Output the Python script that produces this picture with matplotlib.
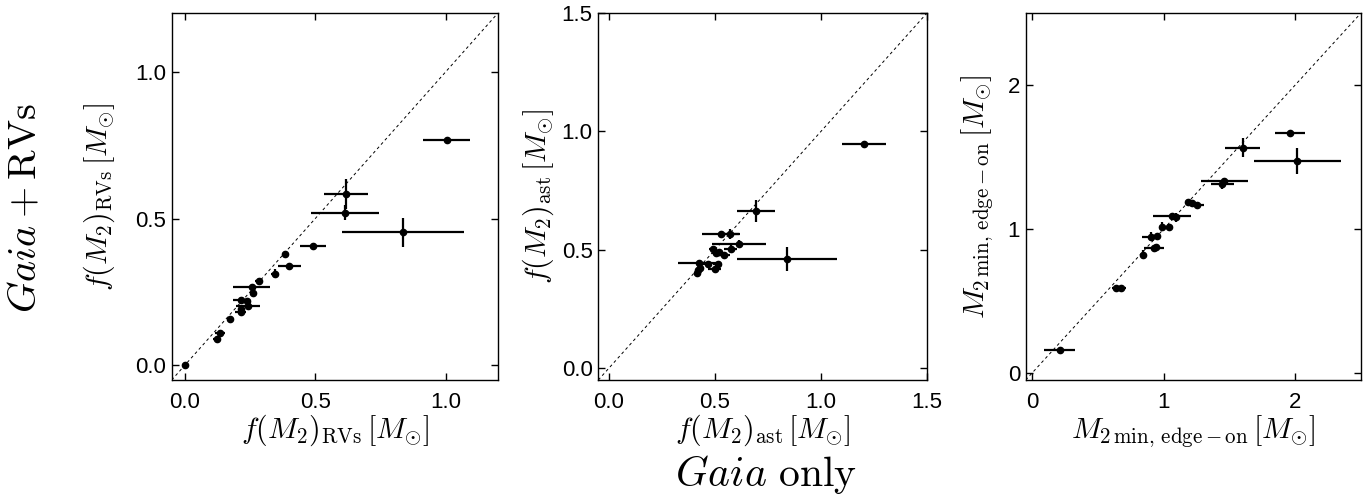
import matplotlib
matplotlib.use("Agg")
import matplotlib.pyplot as plt

plt.rcParams['font.family'] = ['Liberation Sans', 'DejaVu Sans']
plt.rcParams['mathtext.fontset'] = 'cm'

# Panel 1: f(M2) from RVs
rv_gaia = [0.0, 1.003, 0.617, 0.613, 0.836, 0.492, 0.383, 0.401, 0.345, 0.286,
           0.256, 0.261, 0.214, 0.237, 0.242, 0.214, 0.214, 0.174, 0.134, 0.125]
rv_comb = [0.0, 0.767, 0.583, 0.520, 0.453, 0.406, 0.380, 0.338, 0.312, 0.287,
           0.268, 0.245, 0.224, 0.218, 0.203, 0.193, 0.181, 0.159, 0.109, 0.089]
rv_xerr = [0.003, 0.09, 0.085, 0.13, 0.235, 0.05, 0.008, 0.043, 0.015, 0.015,
           0.07, 0.01, 0.03, 0.015, 0.046, 0.01, 0.02, 0.008, 0.02, 0.015]
rv_yerr = [0.002, 0.005, 0.05, 0.025, 0.05, 0.005, 0.005, 0.005, 0.015, 0.01,
           0.01, 0.01, 0.01, 0.01, 0.01, 0.01, 0.01, 0.01, 0.01, 0.01]

# Panel 2: f(M2) astrometric
ast_gaia = [1.203, 0.695, 0.838, 0.528, 0.572, 0.613, 0.575, 0.489, 0.505, 0.542,
            0.426, 0.466, 0.513, 0.498, 0.421, 0.414, 0.52, 0.43]
ast_comb = [0.948, 0.664, 0.460, 0.566, 0.566, 0.525, 0.504, 0.504, 0.485, 0.478,
            0.443, 0.439, 0.439, 0.419, 0.415, 0.401, 0.492, 0.425]
ast_xerr = [0.105, 0.09, 0.236, 0.09, 0.04, 0.128, 0.03, 0.015, 0.02, 0.03,
            0.1, 0.02, 0.02, 0.03, 0.01, 0.01, 0.02, 0.01]
ast_yerr = [0.005, 0.046, 0.05, 0.01, 0.02, 0.015, 0.015, 0.01, 0.01, 0.01,
            0.015, 0.01, 0.01, 0.01, 0.01, 0.01, 0.01, 0.01]

# Panel 3: minimum companion mass, edge-on
m2_gaia = [0.208, 0.637, 0.676, 0.843, 0.925, 0.94, 0.902, 0.945, 0.984, 1.041,
           1.061, 1.095, 1.182, 1.215, 1.254, 1.46, 1.446, 1.601, 1.961, 2.017]
m2_comb = [0.158, 0.591, 0.591, 0.821, 0.865, 0.875, 0.946, 0.953, 1.015, 1.015,
           1.09, 1.081, 1.189, 1.178, 1.166, 1.335, 1.31, 1.565, 1.669, 1.472]
m2_xerr = [0.118, 0.03, 0.04, 0.02, 0.077, 0.02, 0.07, 0.03, 0.02, 0.03,
           0.145, 0.02, 0.02, 0.03, 0.05, 0.18, 0.085, 0.134, 0.113, 0.33]
m2_yerr = [0.005, 0.01, 0.01, 0.03, 0.02, 0.02, 0.03, 0.01, 0.03, 0.01,
           0.02, 0.03, 0.02, 0.02, 0.01, 0.02, 0.03, 0.067, 0.01, 0.093]

panels = [
    dict(x=rv_gaia, y=rv_comb, xe=rv_xerr, ye=rv_yerr, lim=(-0.05, 1.2),
         ticks=[0.0, 0.5, 1.0], fmt='{:.1f}',
         label=r'$f(M_2)_{\rm RVs}\,[M_{\odot}]$', rect=[171.7, 498.0], ylc=-0.168),
    dict(x=ast_gaia, y=ast_comb, xe=ast_xerr, ye=ast_yerr, lim=(-0.05, 1.5),
         ticks=[0.0, 0.5, 1.0, 1.5], fmt='{:.1f}',
         label=r'$f(M_2)_{\rm ast}\,[M_{\odot}]$', rect=[598.3, 927.0], ylc=-0.129),
    dict(x=m2_gaia, y=m2_comb, xe=m2_xerr, ye=m2_yerr, lim=(-0.05, 2.5),
         ticks=[0, 1, 2], fmt='{:d}',
         label=r'$M_{2\,{\rm min,\,edge-on}}\,[M_{\odot}]$', rect=[1025.7, 1361.0], ylc=-0.092),
]

W, H = 1371, 504
fig = plt.figure(figsize=(W / 100, H / 100), dpi=100)
top, bot = 13.0, 380.0

for p in panels:
    l, r = p['rect']
    ax = fig.add_axes([l / W, 1 - bot / H, (r - l) / W, (bot - top) / H])
    lo, hi = p['lim']
    ax.plot([lo, hi], [lo, hi], 'k--', lw=0.7, dashes=(3, 3))
    ax.errorbar(p['x'], p['y'], xerr=p['xe'], yerr=p['ye'], fmt='o', color='k',
                ms=4.5, elinewidth=1.6, capsize=0)
    ax.set_xlim(lo, hi)
    ax.set_ylim(lo, hi)
    ax.set_xticks(p['ticks'])
    ax.set_yticks(p['ticks'])
    ax.set_xticklabels([p['fmt'].format(t) for t in p['ticks']])
    ax.set_yticklabels([p['fmt'].format(t) for t in p['ticks']])
    ax.tick_params(direction='in', top=True, right=True, length=5, width=1,
                   labelsize=16)
    ax.tick_params(axis='x', pad=9)
    ax.tick_params(axis='y', pad=4)
    for s in ax.spines.values():
        s.set_linewidth(1.0)
    ax.set_xlabel(p['label'], fontsize=21.5)
    ax.set_ylabel(p['label'], fontsize=21.5)
    ax.xaxis.set_label_coords(0.5, -0.09)
    ax.yaxis.set_label_coords(p['ylc'], 0.5)

fig.text(25 / W, 1 - 208 / H, r'$Gaia+{\rm RVs}$', rotation=90, fontsize=29,
         ha='center', va='center')
fig.text(766 / W, 1 - 475 / H, r'$Gaia\ {\rm only}$', fontsize=30,
         ha='center', va='center')

fig.savefig('out.png', dpi=100)
